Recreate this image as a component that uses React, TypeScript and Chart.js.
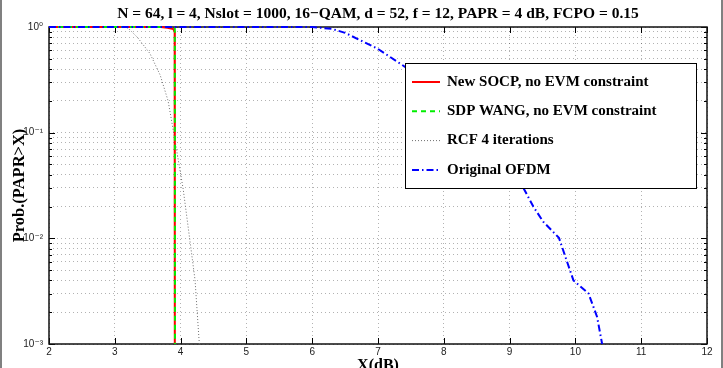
import React, { useEffect, useRef } from 'react';
import { Chart, registerables } from 'chart.js';

Chart.register(...registerables);

// ---- Data ----
const titleText = 'N = 64, l = 4, Nslot = 1000, 16\u2212QAM, d = 52, f = 12, PAPR = 4 dB, FCPO = 0.15';
const xAxisTitle = 'X(dB)';
const yAxisTitle = 'Prob.(PAPR>X)';

const seriesLabels = [
  'New SOCP, no EVM constraint',
  'SDP WANG, no EVM constraint',
  'RCF 4 iterations',
  'Original OFDM',
];

const socpX = [2, 3.0, 3.7, 3.8, 3.89, 3.91, 3.912];
const socpY = [1, 1, 1, 0.985, 0.955, 0.9, 0.0009];

const sdpX = [2, 3.0, 3.9, 3.912, 3.915];
const sdpY = [1, 1, 1, 0.98, 0.0009];

const rcfX = [2, 3.1, 3.2, 3.35, 3.535, 3.69, 3.81, 3.91, 4.04, 4.14, 4.22, 4.28, 4.3];
const rcfY = [1, 1, 0.98, 0.79, 0.56, 0.35, 0.2, 0.088, 0.029, 0.0097, 0.004, 0.0011, 0.0008];

const ofdmX = [2, 6.0, 6.3, 6.5, 6.73, 7.0, 7.41, 7.8, 8.2, 8.6, 9.0, 9.21, 9.36, 9.51, 9.75, 9.97, 10.2, 10.33, 10.42];
const ofdmY = [1, 1, 0.96, 0.88, 0.75, 0.62, 0.42, 0.28, 0.17, 0.095, 0.05, 0.03, 0.02, 0.0144, 0.0101, 0.004, 0.003, 0.0018, 0.0009];

const xTicks = [2, 3, 4, 5, 6, 7, 8, 9, 10, 11, 12];
const yMajorTicks = [0.001, 0.01, 0.1, 1];
const yTickLabels = ['10\u207B\u00B3', '10\u207B\u00B2', '10\u207B\u00B9', '10\u2070'];

const W = 723;
const H = 368;
const CANVAS_H = 376;

const isMajor = (v: number) => {
  const l = Math.log10(v);
  return Math.abs(l - Math.round(l)) < 1e-9;
};

export default function App() {
  const ref = useRef<HTMLCanvasElement>(null);

  useEffect(() => {
    const canvas = ref.current;
    if (!canvas) return;
    const pts = (xs: number[], ys: number[]) => xs.map((x, i) => ({ x, y: ys[i] }));

    const yAllTicks: number[] = [];
    for (let e = -3; e < 0; e++) {
      for (let m = 1; m < 10; m++) yAllTicks.push(parseFloat((m * Math.pow(10, e)).toPrecision(6)));
    }
    yAllTicks.push(1);

    const serif = "'Liberation Serif', 'Times New Roman', serif";
    const sans = "'Liberation Sans', 'DejaVu Sans', Arial, sans-serif";

    const framePlugin = {
      id: 'frame',
      beforeDraw(chart: any) {
        const ctx = chart.ctx;
        ctx.save();
        ctx.fillStyle = '#fff';
        ctx.fillRect(0, 0, chart.width, chart.height);
        ctx.restore();
      },
      beforeDatasetsDraw(chart: any) {
        const { ctx, chartArea: a, scales } = chart;
        ctx.save();
        ctx.strokeStyle = '#000';
        ctx.lineWidth = 1;
        // inner tick marks
        ctx.beginPath();
        for (const t of xTicks) {
          const px = Math.round(scales.x.getPixelForValue(t)) + 0.5;
          ctx.moveTo(px, a.bottom);
          ctx.lineTo(px, a.bottom - 6);
          ctx.moveTo(px, a.top);
          ctx.lineTo(px, a.top + 6);
        }
        for (const t of yAllTicks) {
          const py = Math.round(scales.y.getPixelForValue(t)) + 0.5;
          const len = isMajor(t) ? 6 : 3;
          ctx.moveTo(a.left, py);
          ctx.lineTo(a.left + len, py);
          ctx.moveTo(a.right, py);
          ctx.lineTo(a.right - len, py);
        }
        ctx.stroke();
        // axes box
        ctx.lineWidth = 1.5;
        ctx.strokeStyle = '#111';
        ctx.strokeRect(a.left, a.top, a.right - a.left, a.bottom - a.top);
        ctx.restore();
      },
      afterDraw(chart: any) {
        const ctx = chart.ctx;
        ctx.save();
        // legend box
        const lx = 405, ly = 63, lw = 291, lh = 125;
        ctx.fillStyle = '#fff';
        ctx.fillRect(lx, ly, lw, lh);
        ctx.strokeStyle = '#000';
        ctx.lineWidth = 1;
        ctx.strokeRect(lx + 0.5, ly + 0.5, lw, lh);
        chart.data.datasets.forEach((ds: any, i: number) => {
          const cy = ly + 19 + i * 29.3;
          ctx.save();
          ctx.strokeStyle = ds.borderColor;
          ctx.lineWidth = ds.borderWidth;
          ctx.setLineDash(ds.borderDash || []);
          ctx.beginPath();
          ctx.moveTo(412, cy);
          ctx.lineTo(440, cy);
          ctx.stroke();
          ctx.restore();
          ctx.fillStyle = '#000';
          ctx.font = `bold 15px ${serif}`;
          ctx.textBaseline = 'middle';
          ctx.textAlign = 'left';
          ctx.fillText(ds.label, 447, cy);
        });
        // figure frame edges
        ctx.fillStyle = '#808080';
        ctx.fillRect(0, 0, 2, chart.height);
        ctx.fillRect(721, 0, 2, chart.height);
        ctx.restore();
      },
    };

    const chart = new Chart(canvas, {
      type: 'line',
      data: {
        datasets: [
          {
            label: seriesLabels[0],
            data: pts(socpX, socpY),
            borderColor: '#ff0000',
            borderWidth: 2,
            borderDash: [],
            order: 3,
          },
          {
            label: seriesLabels[1],
            data: pts(sdpX, sdpY),
            borderColor: '#00ee00',
            borderWidth: 2,
            borderDash: [5, 4],
            order: 2,
          },
          {
            label: seriesLabels[2],
            data: pts(rcfX, rcfY),
            borderColor: '#6f6f6f',
            borderWidth: 1,
            borderDash: [1, 2],
            order: 4,
          },
          {
            label: seriesLabels[3],
            data: pts(ofdmX, ofdmY),
            borderColor: '#0000ff',
            borderWidth: 2,
            borderDash: [7, 3, 1.5, 3],
            order: 1,
          },
        ] as any,
      },
      options: {
        responsive: false,
        animation: false,
        devicePixelRatio: 1,
        layout: { padding: { left: 0, right: 16, top: 0, bottom: 0 } },
        elements: {
          point: { radius: 0, hoverRadius: 0 },
          line: { tension: 0, fill: false },
        },
        datasets: {
          line: { clip: { left: 2, top: 3, right: 2, bottom: 0 } as any },
        },
        plugins: {
          legend: { display: false },
          tooltip: { enabled: false },
          title: {
            display: true,
            text: titleText,
            fullSize: false,
            color: '#000',
            padding: { top: 5, bottom: 3.4 },
            font: { family: serif, size: 15.5, weight: 'bold' },
          } as any,
        },
        scales: {
          x: {
            type: 'linear',
            min: 2,
            max: 12,
            afterBuildTicks: (scale: any) => {
              scale.ticks = xTicks.map((v) => ({ value: v }));
            },
            afterFit: (scale: any) => {
              scale.height = CANVAS_H - 344;
            },
            ticks: {
              autoSkip: false,
              maxRotation: 0,
              padding: 2,
              color: '#222',
              font: { family: sans, size: 10 },
            },
            grid: {
              drawTicks: false,
              color: 'rgba(0,0,0,0.3)',
              lineWidth: 1,
            },
            border: { display: false, dash: [1, 3] },
            title: {
              display: true,
              text: xAxisTitle,
              color: '#000',
              padding: { top: 0, bottom: 1 },
              font: { family: serif, size: 16, weight: 'bold' },
            },
          },
          y: {
            type: 'logarithmic',
            min: 0.001,
            max: 1,
            afterBuildTicks: (scale: any) => {
              scale.ticks = yAllTicks.map((v) => ({ value: v }));
            },
            afterFit: (scale: any) => {
              scale.width = 49;
            },
            ticks: {
              autoSkip: false,
              padding: 6,
              color: '#222',
              font: { family: sans, size: 10 },
              callback: (value: any) => {
                const v = Number(value);
                const idx = yMajorTicks.findIndex((m) => Math.abs(Math.log10(m) - Math.log10(v)) < 1e-9);
                return idx >= 0 ? yTickLabels[idx] : '';
              },
            },
            grid: {
              drawTicks: false,
              color: 'rgba(0,0,0,0.3)',
              lineWidth: 1,
            },
            border: { display: false, dash: [1, 3] },
            title: {
              display: true,
              text: yAxisTitle,
              color: '#000',
              padding: { top: 10, bottom: 0 },
              font: { family: serif, size: 16.5, weight: 'bold' },
            },
          },
        },
      } as any,
      plugins: [framePlugin],
    });

    return () => {
      chart.destroy();
    };
  }, []);

  return (
    <div
      style={{
        position: 'fixed',
        left: 0,
        top: 0,
        width: W,
        height: H,
        overflow: 'hidden',
        background: '#fff',
      }}
    >
      <canvas ref={ref} width={W} height={CANVAS_H} style={{ display: 'block' }} />
    </div>
  );
}
